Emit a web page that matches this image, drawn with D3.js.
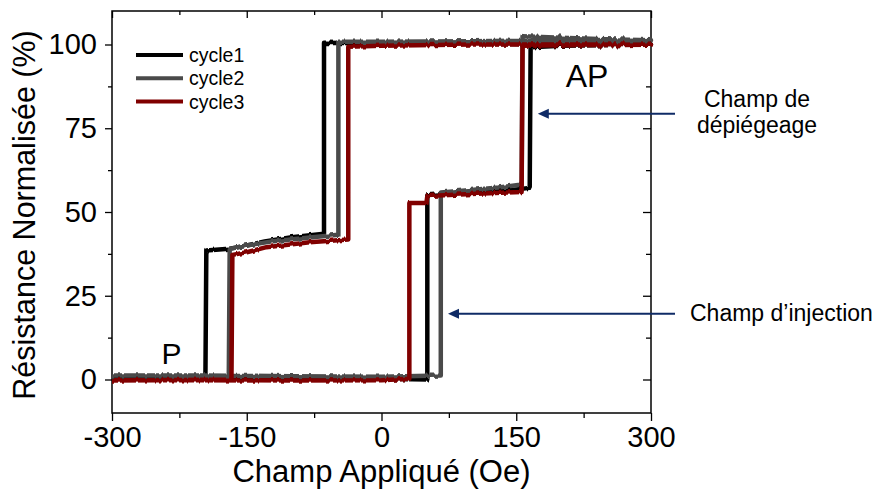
<!DOCTYPE html>
<html>
<head>
<meta charset="utf-8">
<script src="https://cdn.jsdelivr.net/npm/d3@7"></script>
<style>
  body { margin: 0; background: #fff; }
  text { font-family: "Liberation Sans", Arial, sans-serif; }
</style>
</head>
<body>
<div class="chart"></div>
<script>
// [field (Oe), normalized resistance (%)]
var cycle1 = [
  [-300, 0.5], [-200, 0.5], [-100, 0.3], [0, 0.2], [51, 0], [51, 55], [100, 55.8], [140, 56.4], [165, 57.2],
  [166, 99.2], [200, 99.6], [300, 100],
  [200, 100], [100, 100.2], [0, 100.3], [-64, 100.5], [-64, 43.5], [-100, 42.5], [-130, 41.2], [-150, 40],
  [-170, 39], [-195, 38.5], [-196, 0.8], [-250, 0.8], [-300, 0.8]
];
var cycle2 = [
  [-300, 1.2], [-200, 1.2], [-100, 1], [0, 0.8], [66, 1.2], [66, 55.8], [100, 56.6], [130, 57.3], [156, 58.2],
  [157, 102.5], [200, 102], [250, 101.6], [300, 101.3],
  [200, 101.2], [100, 101], [0, 100.8], [-48, 100.8], [-48, 43.2], [-80, 42.4], [-120, 41.3], [-150, 40],
  [-169, 39], [-170, 1], [-250, 1.2], [-300, 1.2]
];
var cycle3 = [
  [-300, -0.2], [-200, -0.2], [-100, -0.3], [0, -0.2], [31, 0.2], [31, 52.7], [50, 52.7], [51, 54.8],
  [100, 55.4], [140, 55.8], [156, 56], [157, 99.6], [200, 99.8], [300, 99.9],
  [200, 100], [100, 100], [0, 99.6], [-37, 99.3], [-37, 41.8], [-80, 41], [-128, 39.5], [-150, 38],
  [-166, 37.2], [-167, 0], [-250, -0.2], [-300, -0.3]
];
var seriesNames = ["cycle1", "cycle2", "cycle3"];
var seriesColors = ["#000000", "#4a4a4a", "#800000"];

var xTicks = [-300, -150, 0, 150, 300];
var xMinor = [-225, -75, 75, 225];
var yTicks = [0, 25, 50, 75, 100];
var yMinor = [12.5, 37.5, 62.5, 87.5];

// annotations: [label lines, arrow tip field, arrow tip R]
var arrows = [
  {lines: ["Champ de", "dépiégeage"], h: 174, r: 79.3},
  {lines: ["Champ d\u2019injection"], h: 74, r: 19.6}
];

var W = 878, H = 493;
var margin = {top: 11, right: 227, bottom: 80, left: 112},
    width = W - margin.left - margin.right,
    height = H - margin.top - margin.bottom;

var svg = d3.select(".chart").append("svg")
    .attr("width", W)
    .attr("height", H);

// y-only jitter so the measured curves look like the scan
var defs = svg.append("defs");
var f = defs.append("filter")
    .attr("id", "noise")
    .attr("filterUnits", "userSpaceOnUse")
    .attr("x", 0).attr("y", 0).attr("width", W).attr("height", H)
    .attr("color-interpolation-filters", "sRGB");
f.append("feTurbulence")
    .attr("type", "fractalNoise")
    .attr("baseFrequency", "0.22 0")
    .attr("numOctaves", 2)
    .attr("seed", 3)
    .attr("result", "t");
f.append("feColorMatrix")
    .attr("in", "t")
    .attr("type", "matrix")
    .attr("values", "0 0 0 0 0.5  0 1 0 0 0  0 0 0 0 0  0 0 0 0 1")
    .attr("result", "m");
f.append("feDisplacementMap")
    .attr("in", "SourceGraphic")
    .attr("in2", "m")
    .attr("scale", 6)
    .attr("xChannelSelector", "R")
    .attr("yChannelSelector", "G");

var g = svg.append("g")
    .attr("transform", "translate(" + margin.left + "," + margin.top + ")");

var x = d3.scaleLinear().domain([-300, 300]).range([0, width]);
var y = d3.scaleLinear().domain([-10, 110]).range([height, 0]);
var fmt = function(d) { return String(d); };

// bottom axis
g.append("g")
    .attr("transform", "translate(0," + height + ")")
    .call(d3.axisBottom(x).tickValues(xTicks).tickFormat(fmt).tickSize(8).tickSizeOuter(0).tickPadding(5));
g.append("g")
    .attr("transform", "translate(0," + height + ")")
    .call(d3.axisBottom(x).tickValues(xMinor).tickSize(5).tickFormat(""));
// left axis
g.append("g")
    .call(d3.axisLeft(y).tickValues(yTicks).tickFormat(fmt).tickSize(7).tickSizeOuter(0).tickPadding(8));
g.append("g")
    .call(d3.axisLeft(y).tickValues(yMinor).tickSize(4).tickFormat(""));
// mirror ticks, pointing in
g.append("g").call(d3.axisTop(x).tickValues(xTicks).tickSize(-7).tickFormat(""));
g.append("g").call(d3.axisTop(x).tickValues(xMinor).tickSize(-4).tickFormat(""));
g.append("g").attr("transform", "translate(" + width + ",0)")
    .call(d3.axisRight(y).tickValues(yTicks).tickSize(-8).tickFormat(""));
g.append("g").attr("transform", "translate(" + width + ",0)")
    .call(d3.axisRight(y).tickValues(yMinor).tickSize(-5).tickFormat(""));

g.selectAll(".domain").remove();
g.selectAll(".tick line").attr("stroke", "#000").attr("stroke-width", 1.3);
g.selectAll(".tick text")
    .attr("fill", "#000")
    .style("font-size", "29px");

g.append("rect")
    .attr("width", width)
    .attr("height", height)
    .attr("fill", "none")
    .attr("stroke", "#000")
    .attr("stroke-width", 1.5);

// curves
var line = d3.line()
    .x(function(d) { return x(d[0]); })
    .y(function(d) { return y(d[1]); });

var curves = g.append("g").attr("filter", "url(#noise)");
[cycle1, cycle2, cycle3].forEach(function(c, i) {
  curves.append("path")
      .datum(c)
      .attr("d", line)
      .attr("fill", "none")
      .attr("stroke", seriesColors[i])
      .attr("stroke-width", 4.5)
      .attr("stroke-linejoin", "round")
      .attr("stroke-linecap", "round");
});

// legend
var legend = g.append("g").attr("transform", "translate(24,44)");
seriesNames.forEach(function(n, i) {
  var row = legend.append("g").attr("transform", "translate(0," + (i * 23.3) + ")");
  row.append("line")
      .attr("x1", 0).attr("x2", 47)
      .attr("stroke", seriesColors[i])
      .attr("stroke-width", 4);
  row.append("text")
      .attr("x", 53)
      .attr("y", 7)
      .style("font-size", "19.5px")
      .text(n);
});

// P / AP
g.append("text")
    .attr("x", x(-245))
    .attr("y", y(4.6))
    .style("font-size", "30px")
    .text("P");
g.append("text")
    .attr("x", x(205))
    .attr("y", y(87.2))
    .style("font-size", "32px")
    .text("AP");

// arrows
var navy = "#0f2b66";
arrows.forEach(function(a) {
  var tx = x(a.h), ty = y(a.r);
  g.append("line")
      .attr("x1", width + 24).attr("x2", tx + 8)
      .attr("y1", ty).attr("y2", ty)
      .attr("stroke", navy)
      .attr("stroke-width", 2);
  g.append("path")
      .attr("d", "M" + tx + "," + ty + "l11,-5l0,10z")
      .attr("fill", navy);
});
var t1 = g.append("text")
    .attr("text-anchor", "middle")
    .style("font-size", "23px");
t1.append("tspan").attr("x", 645).attr("y", y(arrows[0].r) - 7).text(arrows[0].lines[0]);
t1.append("tspan").attr("x", 645).attr("y", y(arrows[0].r) + 19).text(arrows[0].lines[1]);
g.append("text")
    .attr("x", width + 39)
    .attr("y", y(arrows[1].r) + 7)
    .style("font-size", "23px")
    .text(arrows[1].lines[0]);

// axis titles
svg.append("text")
    .attr("x", margin.left + width / 2)
    .attr("y", 482)
    .attr("text-anchor", "middle")
    .style("font-size", "31px")
    .text("Champ Appliqué (Oe)");
svg.append("text")
    .attr("transform", "translate(35,215) rotate(-90)")
    .attr("text-anchor", "middle")
    .style("font-size", "30.5px")
    .text("Résistance Normalisée (%)");
</script>
</body>
</html>
